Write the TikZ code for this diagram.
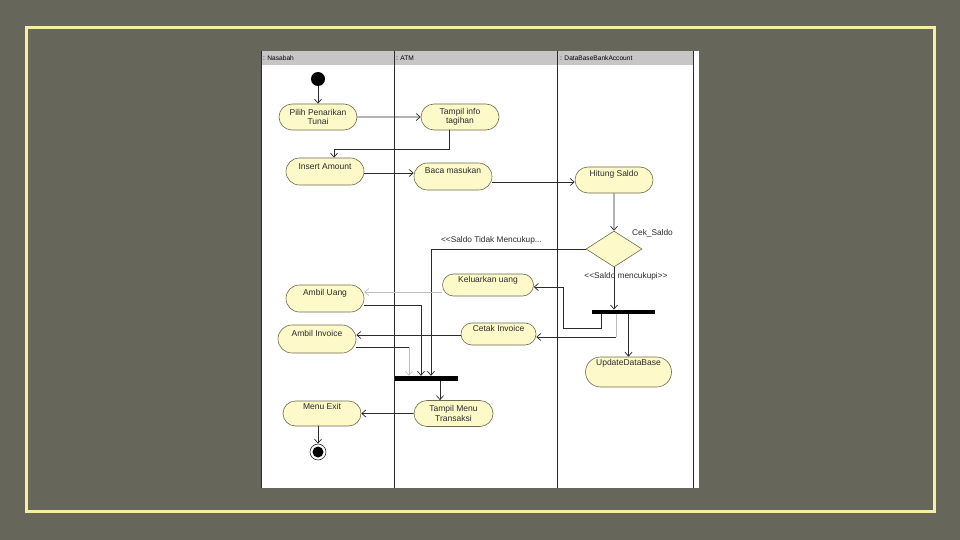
\documentclass[tikz,border=0pt]{standalone}
\usepackage{fontspec}
\setmainfont{Liberation Sans}
\usetikzlibrary{arrows.meta,shapes.misc,shapes.geometric}
\definecolor{bg}{HTML}{66675A}
\definecolor{framecol}{HTML}{F4EFA2}
\definecolor{actfill}{HTML}{FDF9C9}
\definecolor{actdraw}{HTML}{6E6C4E}
\definecolor{ink}{HTML}{2B2B2B}
\definecolor{hdr}{HTML}{C6C6C6}
\definecolor{lightln}{HTML}{BDBDBD}
\tikzset{
 act/.style={rounded rectangle, draw=actdraw, fill=actfill, line width=0.6pt,
   minimum width=80pt, minimum height=26pt, inner sep=1pt, align=center,
   font=\fontsize{8.5}{9.5}\selectfont, text=ink},
 flow/.style={draw=ink, line width=0.7pt, -{Straight Barb[length=4pt,width=7pt]}},
 flowlt/.style={flow, draw=lightln},
 plainln/.style={draw=ink, line width=0.7pt},
 plainlt/.style={draw=lightln, line width=0.7pt},
 bar/.style={rectangle, fill=black, minimum width=63pt, minimum height=4.5pt, inner sep=0pt},
 lane/.style={draw=ink, line width=0.7pt},
 hdrtxt/.style={anchor=west, font=\fontsize{6.6}{7}\selectfont, text=black, inner sep=0pt},
 guard/.style={font=\fontsize{8.3}{9}\selectfont, text=ink, inner sep=0pt},
}
\begin{document}
\begin{tikzpicture}[x=1pt,y=-1pt]
\useasboundingbox (0,0) rectangle (960,540);
% background and frame
\fill[bg] (0,0) rectangle (960,540);
\draw[framecol, line width=3pt] (26,27.5) rectangle (934.5,511.5);
% diagram sheet
\fill[white] (261,51) rectangle (699,488);
\fill[hdr] (261,51) rectangle (693,65);
\draw[lane] (261.3,51) -- (261.3,488);
\draw[lane] (394.5,51) -- (394.5,488);
\draw[lane] (557.5,51) -- (557.5,488);
\draw[lane] (693,51) -- (693,488);
\node[hdrtxt] (h1) at (263,58.5) {: Nasabah};
\node[hdrtxt] (h2) at (396,58.5) {: ATM};
\node[hdrtxt] (h3) at (560,58.5) {: DataBaseBankAccount};

% nodes
\node[circle, fill=black, minimum size=14pt, inner sep=0pt] (start) at (318,79) {};
\node[act] (pilih) at (318,117) {Pilih Penarikan\\Tunai};
\node[act] (tinfo) at (460,117) {Tampil info\\tagihan};
\node[act, minimum height=27pt] (insert) at (325,171.5) {Insert Amount\\[1pt]\mbox{}};
\node[act, minimum height=27pt] (baca) at (453,176.5) {Baca masukan\\[3pt]\mbox{}};
\node[act] (hitung) at (614,180) {Hitung Saldo\\[4pt]\mbox{}};
\node[diamond, draw=actdraw, fill=actfill, line width=0.6pt, minimum width=56pt,
      minimum height=36pt, inner sep=0pt] (dia) at (614,249) {};
\node[act, minimum width=93pt, minimum height=22pt] (keluar) at (488,285) {Keluarkan uang\\[2pt]\mbox{}};
\node[act, minimum height=27pt] (ambiluang) at (325,298.5) {Ambil Uang\\[3pt]\mbox{}};
\node[bar] (fork) at (623.5,312) {};
\node[act, minimum width=77pt, minimum height=22pt] (cetak) at (498.5,334) {Cetak Invoice\\[2pt]\mbox{}};
\node[act, minimum height=28pt] (ambilinv) at (317,339) {Ambil Invoice\\[2pt]\mbox{}};
\node[act, minimum width=88pt, minimum height=30pt] (update) at (628.5,372) {UpdateDataBase\\[10pt]\mbox{}};
\node[bar, minimum height=5pt] (join) at (426,378.5) {};
\node[act, minimum width=81pt] (tmenu) at (453.5,413.5) {Tampil Menu\\Transaksi};
\node[act, minimum height=25pt] (mexit) at (322,413.5) {Menu Exit\\[4pt]\mbox{}};
\node[circle, draw=ink, fill=white, minimum size=16pt, inner sep=0pt, line width=0.6pt] (end) at (318,452) {};
\node[circle, fill=black, minimum size=11pt, inner sep=0pt] (endin) at (end) {};

% guard labels
\node[guard] (lcek) at (652.5,233) {Cek\_Saldo};
\node[guard] (ltidak) at (491.5,240) {<{}<Saldo Tidak Mencukup...};
\node[guard] (lcukup) at (626,276) {<{}<Saldo mencukupi>{}>};

% connectors
\draw[flow] (start) -- (pilih);
\draw[flow] (pilih) -- (tinfo);
\draw[flow] ([xshift=-11pt]tinfo.south) |- (334,149) -- (insert.north -| 334,0);
\draw[flow] (insert.east |- 0,173) -- (baca.west |- 0,173);
\draw[flow] (baca.east |- 0,182) -- (hitung.west |- 0,182);
\draw[flow] (hitung) -- (dia);
\draw[flow] (dia.west) -| ([xshift=5pt]join.north);
\draw[flow] (dia.south) -- (dia.south |- fork.north);
\draw[flow] ([xshift=5pt]fork.south) -- (update.north);
\draw[flow] ([xshift=-22pt]fork.south) |- (563,328) |- (keluar.east |- 0,287);
\coordinate (b2) at (616,337);
\draw[plainlt] (fork.south -| b2) -- (b2);
\draw[flow] (b2) -- (cetak.east |- b2);
\draw[flowlt] (keluar.west |- 0,292) -- (ambiluang.east |- 0,292);
\draw[flow] (cetak.west |- 0,335) -- (ambilinv.east |- 0,335);
\draw[flow] (ambiluang.east |- 0,305) -| ([xshift=-5pt]join.north);
\coordinate (b1) at (409,347);
\draw[plainln] (ambilinv.east |- b1) -- (b1);
\draw[flowlt] (b1) -- (b1 |- join.north);
\draw[flow] ([xshift=14pt]join.south) -- ([xshift=14pt]join.south |- tmenu.north);
\draw[flow] (tmenu) -- (mexit);
\draw[flow] (mexit.south -| end) -- (end);
\end{tikzpicture}
\end{document}
